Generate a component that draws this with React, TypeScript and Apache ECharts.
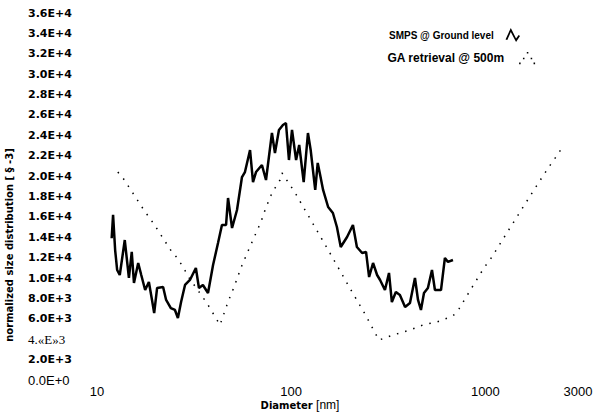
import React, { useEffect, useRef } from "react";
import * as echarts from "echarts";

const smpsDiameters = [
  11.9, 12.1, 12.4, 12.7, 13.1, 13.9, 14.6, 15.1, 15.5, 16.3, 16.9, 17.7, 18.5, 19.2, 19.7, 20.4,
  21.9, 22.7, 24.0, 25.2, 26.1, 27.1, 28.4, 30.1, 32.3, 33.5, 35.1, 37.3, 39.6, 42.0, 44.0, 46.2,
  47.3, 49.6, 52.6, 55.8, 57.8, 61.4, 63.6, 65.9, 70.7, 74.2, 79.6, 82.5, 86.5, 90.7, 94.0, 97.4,
  101, 106, 110, 116, 122, 126, 133, 137, 141, 146, 155, 164, 172, 180, 194, 208, 218, 232, 243,
  252, 264, 277, 287, 304, 319, 330, 346, 363, 386, 409, 434, 450, 466, 483, 506, 531, 550, 591,
  619, 642, 681,
];
const smpsValues = [
  13900, 16200, 12750, 10790, 10300, 13730, 10010, 12560, 9520, 11480, 10300, 8830, 9610, 7850, 6570, 9030,
  9120, 7850, 7060, 6870, 6080, 7650, 9320, 9810, 10990, 9030, 9320, 8530, 11280, 13440, 15210, 15210,
  17850, 14910, 16680, 19910, 20400, 22560, 19420, 20400, 21090, 19620, 24230, 22270, 24530, 25020, 25210, 21580,
  24530, 21580, 23050, 19420, 24230, 22560, 18640, 21290, 20110, 18640, 16970, 16380, 15010, 13050, 14030, 15210, 13050, 12460, 12560,
  10100, 11480, 10300, 9810, 8830, 10500, 7650, 8630, 8340, 7160, 7550, 10010, 7850, 6870, 8530, 9030, 10790, 8830, 8830,
  11970, 11580, 11770,
];

const gaDiameters = [
  12.8, 13.6, 15.3, 17.7, 18.7, 20.4, 24.3, 25.2, 28.0, 29.1, 36.8, 43.0, 46.7, 48.4, 50.8, 55.1,
  60.6, 65.9, 69.9, 72.4, 76.9, 79.6, 87.6, 89.7, 105, 110, 153, 206, 240, 283, 334, 409, 477, 563,
  681, 731, 785, 983, 1081, 1262, 1338, 1779, 1979, 2176, 2309, 2539,
];
const gaValues = [
  20400, 19820, 18340, 16480, 15890, 14810, 12560, 12260, 10990, 10300, 7550, 5400, 7360, 8140, 9120, 10990,
  12850, 14420, 15500, 16380, 17660, 18340, 19620, 20310, 18340, 17660, 12950, 8630, 6470, 3920, 4410, 4900, 5400, 5690,
  6280, 6970, 7950, 10990, 12070, 14130, 14910, 18640, 20010, 21190, 21880, 23050,
];

const xTickValues = [10, 100, 1000, 3000];
const xTickLabels = ["10", "100", "1000", "3000"];
const yTickLabels = [
  "0.0E+0", "2.0E+3", "4.«E»3", "6.0E+3", "8.0E+3", "1.0E+4", "1.2E+4", "1.4E+4", "1.6E+4", "1.8E+4",
  "2.0E+4", "2.2E+4", "2.4E+4", "2.6E+4", "2.8E+4", "3.0E+4", "3.2E+4", "3.4E+4", "3.6E+4",
];
const seriesNames = ["SMPS @ Ground level", "GA retrieval @ 500m"];

const zigzagIcon =
  "path://M0,13 L6,0 L12,12 L15,8 L16.5,9 L12,16 L6,4.5 L2,13.8 Z";
const dotsIcon =
  "path://M0,14 h1.6 v1.6 h-1.6 Z M4,9 h1.6 v1.6 h-1.6 Z M8,3 h1.6 v1.6 h-1.6 Z M12,9 h1.6 v1.6 h-1.6 Z M15,14 h1.6 v1.6 h-1.6 Z";

export default function App() {
  const ref = useRef<HTMLDivElement>(null);
  useEffect(() => {
    if (!ref.current) return;
    const chart = echarts.init(ref.current, undefined, { renderer: "svg" });
    const smps = smpsDiameters.map((d, i) => [d, smpsValues[i]]);
    const ga = gaDiameters.map((d, i) => [d, gaValues[i]]);
    const legendBase = {
      orient: "vertical",
      align: "right",
      itemWidth: 16,
      itemHeight: 14,
      itemStyle: { color: "#000", borderWidth: 0 },
    };
    chart.setOption({
      animation: false,
      backgroundColor: "#ffffff",
      grid: { left: 97, right: 27, top: 13, bottom: 35, containLabel: false, outerBoundsMode: "none" },
      legend: [
        {
          ...legendBase,
          left: 384,
          top: 23,
          data: [{ name: seriesNames[0], icon: zigzagIcon }],
          textStyle: { fontFamily: "Liberation Sans", fontWeight: "bold", fontSize: 10, color: "#000", padding: [0, 6, 0, 0] },
        },
        {
          ...legendBase,
          left: 382,
          top: 47,
          data: [{ name: seriesNames[1], icon: dotsIcon }],
          textStyle: { fontFamily: "Liberation Sans", fontWeight: "bold", fontSize: 12, color: "#000", padding: [0, 10, 0, 0] },
        },
      ],
      xAxis: {
        type: "log",
        logBase: 10,
        min: 10,
        max: 3000,
        axisLine: { show: false },
        axisTick: { show: false },
        splitLine: { show: false },
        axisLabel: {
          margin: 5,
          color: "#000",
          fontFamily: "Liberation Sans",
          fontSize: 13,
          showMinLabel: true,
          showMaxLabel: true,
          formatter: (v: number) => {
            for (let i = 0; i < xTickValues.length; i++) {
              if (Math.abs(v - xTickValues[i]) / xTickValues[i] < 0.01) return xTickLabels[i];
            }
            return "";
          },
        },
      },
      yAxis: {
        type: "value",
        min: 0,
        max: 36000,
        interval: 2000,
        axisLine: { show: false },
        axisTick: { show: false },
        splitLine: { show: false },
        axisLabel: {
          align: "left",
          margin: 69,
          formatter: (v: number) => {
            const i = Math.round(v / 2000);
            const t = yTickLabels[i] ?? "";
            const key = i === 0 ? "n" : i === 2 ? "s" : "b";
            return `{${key}|${t}}`;
          },
          rich: {
            b: { fontFamily: "DejaVu Sans", fontWeight: "bold", fontSize: 11, color: "#000" },
            n: { fontFamily: "Liberation Sans", fontSize: 13, color: "#000" },
            s: { fontFamily: "Liberation Serif", fontSize: 13, color: "#000" },
          },
        },
      },
      graphic: [
        {
          type: "text",
          x: 9,
          y: 245,
          rotation: Math.PI / 2,
          style: {
            text: "normalized size distribution [ § -3]",
            fontFamily: "DejaVu Sans",
            fontWeight: "bold",
            fontSize: 10,
            fill: "#000",
            align: "center",
            verticalAlign: "middle",
          },
        },
        {
          type: "text",
          x: 300,
          y: 405,
          style: {
            text: "{b|Diameter} {n|[nm]}",
            align: "center",
            verticalAlign: "middle",
            rich: {
              b: { fontFamily: "DejaVu Sans", fontWeight: "bold", fontSize: 10, fill: "#000" },
              n: { fontFamily: "Liberation Sans", fontSize: 12, fill: "#000" },
            },
          },
        },
      ],
      series: [
        {
          name: seriesNames[0],
          type: "line",
          data: smps,
          symbol: "none",
          lineStyle: { color: "#000", width: 2.5 },
          itemStyle: { color: "#000" },
        },
        {
          name: seriesNames[1],
          type: "line",
          data: ga,
          symbol: "none",
          lineStyle: { color: "#000", width: 1.5, type: [1.5, 7] },
          itemStyle: { color: "#000" },
        },
      ],
    });
    return () => chart.dispose();
  }, []);
  return (
    <div
      ref={ref}
      style={{ position: "fixed", left: 0, top: 0, width: 605, height: 415, background: "#fff" }}
    />
  );
}
